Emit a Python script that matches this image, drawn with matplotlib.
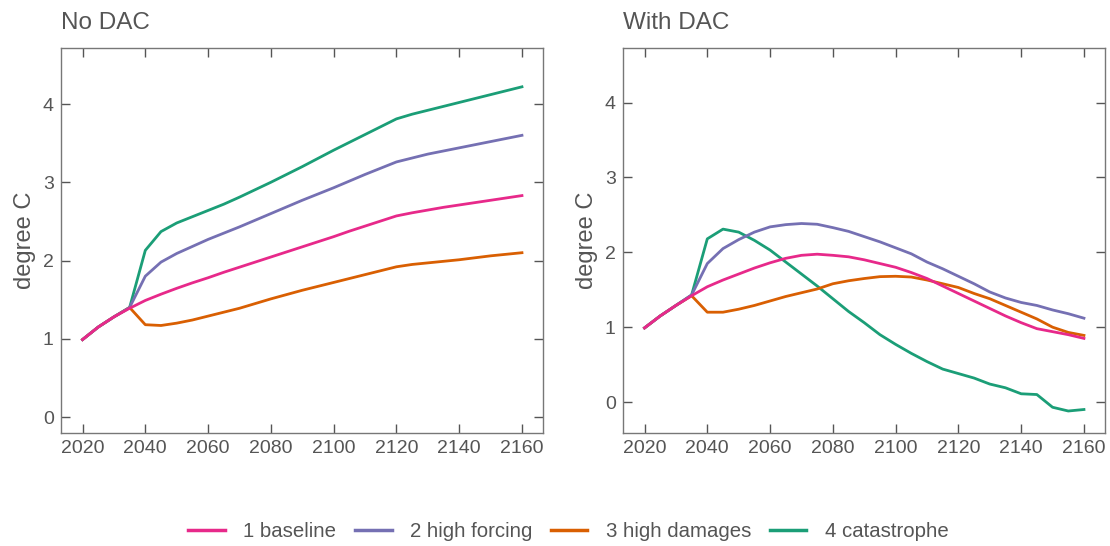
import matplotlib
matplotlib.use("Agg")
import matplotlib.pyplot as plt

years = list(range(2020, 2161, 5))

# No DAC
nodac_baseline = [0.99, 1.15, 1.28, 1.39, 1.49, 1.57, 1.645, 1.715, 1.78, 1.85, 1.915, 1.98, 2.045, 2.11,
                  2.175, 2.24, 2.305, 2.375, 2.44, 2.505, 2.57, 2.61, 2.645, 2.68, 2.71, 2.74, 2.77, 2.80, 2.83]
nodac_forcing = [0.99, 1.15, 1.28, 1.40, 1.80, 1.98, 2.09, 2.18, 2.27, 2.35, 2.43, 2.515, 2.60, 2.685,
                 2.77, 2.85, 2.93, 3.015, 3.10, 3.18, 3.26, 3.31, 3.36, 3.40, 3.44, 3.48, 3.52, 3.56, 3.60]
nodac_damages = [0.99, 1.15, 1.28, 1.40, 1.18, 1.17, 1.20, 1.24, 1.29, 1.34, 1.39, 1.45, 1.51, 1.565,
                 1.62, 1.67, 1.72, 1.77, 1.82, 1.87, 1.92, 1.95, 1.97, 1.99, 2.01, 2.035, 2.06, 2.08, 2.10]
nodac_catastrophe = [0.99, 1.15, 1.28, 1.40, 2.13, 2.37, 2.48, 2.56, 2.64, 2.72, 2.81, 2.905, 3.00, 3.10,
                     3.20, 3.305, 3.41, 3.51, 3.61, 3.71, 3.81, 3.87, 3.92, 3.97, 4.02, 4.07, 4.12, 4.17, 4.22]

# With DAC
dac_baseline = [0.99, 1.15, 1.29, 1.42, 1.54, 1.63, 1.71, 1.79, 1.86, 1.92, 1.96, 1.975, 1.96, 1.94,
                1.90, 1.85, 1.80, 1.73, 1.65, 1.55, 1.45, 1.35, 1.25, 1.15, 1.06, 0.98, 0.94, 0.90, 0.85]
dac_forcing = [0.99, 1.15, 1.29, 1.43, 1.85, 2.05, 2.17, 2.27, 2.34, 2.37, 2.385, 2.375, 2.33, 2.28,
               2.21, 2.14, 2.06, 1.98, 1.87, 1.78, 1.68, 1.58, 1.47, 1.39, 1.33, 1.29, 1.23, 1.18, 1.12]
dac_damages = [0.99, 1.15, 1.29, 1.42, 1.20, 1.20, 1.24, 1.29, 1.35, 1.41, 1.46, 1.51, 1.58, 1.62,
               1.65, 1.675, 1.68, 1.67, 1.63, 1.58, 1.53, 1.45, 1.38, 1.29, 1.20, 1.11, 1.00, 0.93, 0.89]
dac_catastrophe = [0.99, 1.15, 1.29, 1.43, 2.18, 2.31, 2.27, 2.16, 2.03, 1.87, 1.71, 1.55, 1.38, 1.21,
                   1.06, 0.90, 0.77, 0.65, 0.54, 0.44, 0.38, 0.32, 0.24, 0.19, 0.11, 0.10, -0.07, -0.12, -0.10]

labels = ["1 baseline", "2 high forcing", "3 high damages", "4 catastrophe"]
colors = ["#E7298A", "#7570B3", "#D95F02", "#1B9E77"]
panel_titles = ["No DAC", "With DAC"]
x_ticks = [2020, 2040, 2060, 2080, 2100, 2120, 2140, 2160]
y_ticks = [0, 1, 2, 3, 4]

plt.rcParams['font.family'] = ['Liberation Sans', 'DejaVu Sans']

fig = plt.figure(figsize=(11.1, 5.46), dpi=100)
ax1 = fig.add_axes([0.0547, 0.2075, 0.4342, 0.7046])
ax2 = fig.add_axes([0.561, 0.2075, 0.4342, 0.7046])

panels = [
    (ax1, [nodac_baseline, nodac_forcing, nodac_damages, nodac_catastrophe], (-0.2, 4.716)),
    (ax2, [dac_baseline, dac_forcing, dac_damages, dac_catastrophe], (-0.41, 4.73)),
]

txt = "#555555"
for (ax, series, ylim), title in zip(panels, panel_titles):
    order = [3, 2, 1, 0]
    for i in order:
        ax.plot(years, series[i], color=colors[i], lw=2.0, label=labels[i])
    ax.set_xlim(2013.05, 2166.6)
    ax.set_ylim(*ylim)
    ax.set_xticks(x_ticks)
    ax.set_yticks(y_ticks)
    ax.tick_params(direction='in', top=True, right=True, length=6.5, width=1,
                   color="#555555", labelcolor=txt, labelsize=14, pad=5)
    for sp in ax.spines.values():
        sp.set_color("#777777")
        sp.set_linewidth(1.0)
    ax.set_ylabel("degree C", fontsize=17, color=txt, labelpad=5)
    ax.set_title(title, loc='left', fontsize=17.5, color=txt, pad=14)

handles = [plt.Line2D([0], [0], color=c, lw=2.5) for c in colors]
fig.legend(handles, labels, loc='center', bbox_to_anchor=(0.512, 0.027), ncol=4,
           frameon=False, fontsize=14.7, labelcolor=txt, handlelength=1.8,
           columnspacing=0.9, handletextpad=0.9)

fig.savefig("out.png", dpi=100)
